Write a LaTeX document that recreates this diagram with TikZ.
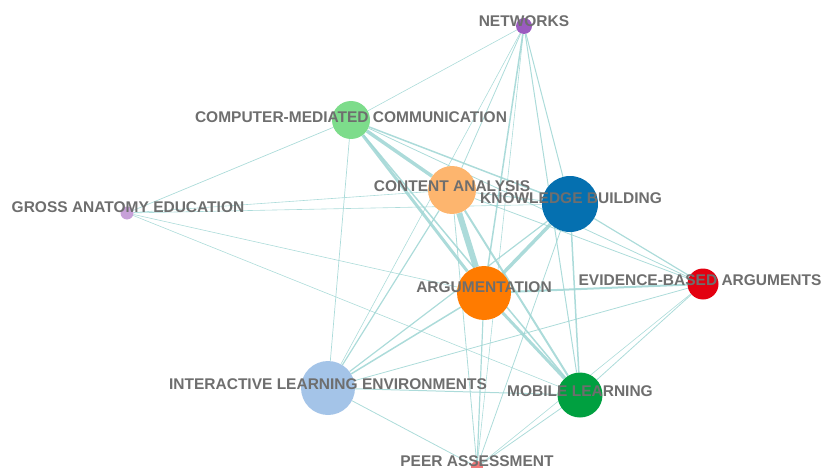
\documentclass[tikz,border=0pt]{standalone}
\usepackage{fontspec}
\setmainfont{Liberation Sans}
\usepackage{xcolor}
\usetikzlibrary{backgrounds}

\definecolor{edgecol}{HTML}{9ED5D3}
\definecolor{labelcol}{HTML}{6E6E6E}
\definecolor{netcol}{HTML}{9B5BC0}
\definecolor{cmccol}{HTML}{7DDC8B}
\definecolor{cacol}{HTML}{FDB56E}
\definecolor{kbcol}{HTML}{0570B0}
\definecolor{gacol}{HTML}{C7A0D8}
\definecolor{argcol}{HTML}{FF7B00}
\definecolor{ebacol}{HTML}{E30010}
\definecolor{ilecol}{HTML}{A4C4E8}
\definecolor{mlcol}{HTML}{00A040}
\definecolor{pacol}{HTML}{F07A7A}

\begin{document}
\begin{tikzpicture}[
    x=1pt, y=-1pt,
    every node/.style={font=\fontsize{15.5}{18}\selectfont\bfseries},
    dot/.style={circle, fill=#1, draw=none, inner sep=0pt},
    tag/.style={text=labelcol, inner sep=0pt, anchor=center},
    tie/.style={draw=edgecol, line width=#1, opacity=0.85}
]
\useasboundingbox (0,0) rectangle (822,468);

% Topic circles
\node[dot=netcol, minimum size=16pt] (net) at (524,26) {};
\node[dot=cmccol, minimum size=38pt] (cmc) at (351,120) {};
\node[dot=cacol, minimum size=48pt] (ca) at (452,190) {};
\node[dot=kbcol, minimum size=56pt] (kb) at (570,204) {};
\node[dot=gacol, minimum size=13pt] (ga) at (127,213) {};
\node[dot=argcol, minimum size=54pt] (arg) at (484,293) {};
\node[dot=ebacol, minimum size=31pt] (eba) at (703,284) {};
\node[dot=ilecol, minimum size=54pt] (ile) at (328,388) {};
\node[dot=mlcol, minimum size=45pt] (ml) at (580,395) {};
\node[dot=pacol, minimum size=12pt] (pa) at (477,467) {};

% Labels
\node[tag] (net-l) at (524,21) {NETWORKS};
\node[tag] (cmc-l) at (351,117) {COMPUTER-MEDIATED COMMUNICATION};
\node[tag] (ca-l) at (452,186) {CONTENT ANALYSIS};
\node[tag] (kb-l) at (571,198) {KNOWLEDGE BUILDING};
\node[tag] (ga-l) at (128,207.5) {GROSS ANATOMY EDUCATION};
\node[tag] (arg-l) at (484,287.5) {ARGUMENTATION};
\node[tag] (eba-l) at (700,280) {EVIDENCE-BASED ARGUMENTS};
\node[tag] (ile-l) at (328,384) {INTERACTIVE LEARNING ENVIRONMENTS};
\node[tag] (ml-l) at (580,391) {MOBILE LEARNING};
\node[tag] (pa-l) at (477,461) {PEER ASSESSMENT};

% Links
\begin{scope}[on background layer]
\draw[tie=0.6] (net) -- (cmc);
\draw[tie=0.8] (net) -- (ca);
\draw[tie=1.5] (net) -- (arg);
\draw[tie=0.6] (net) -- (ile);
\draw[tie=1.0] (net) -- (kb);
\draw[tie=1.0] (net) -- (ml);
\draw[tie=0.6] (net) -- (pa);
\draw[tie=3.5] (cmc) -- (ca);
\draw[tie=3.0] (cmc) -- (arg);
\draw[tie=1.5] (cmc) -- (kb);
\draw[tie=1.5] (cmc) -- (ml);
\draw[tie=0.8] (cmc) -- (eba);
\draw[tie=0.7] (cmc) -- (ile);
\draw[tie=0.7] (cmc) -- (ga);
\draw[tie=0.8] (ca) -- (kb);
\draw[tie=6.0] (ca) -- (arg);
\draw[tie=2.0] (ca) -- (ml);
\draw[tie=1.2] (ca) -- (ile);
\draw[tie=0.8] (ca) -- (eba);
\draw[tie=0.8] (ca) -- (pa);
\draw[tie=0.6] (ca) -- (ga);
\draw[tie=3.5] (kb) -- (arg);
\draw[tie=1.2] (kb) -- (eba);
\draw[tie=1.5] (kb) -- (ml);
\draw[tie=1.2] (kb) -- (ile);
\draw[tie=0.8] (kb) -- (pa);
\draw[tie=0.6] (kb) -- (ga);
\draw[tie=2.0] (arg) -- (eba);
\draw[tie=3.0] (arg) -- (ml);
\draw[tie=1.5] (arg) -- (ile);
\draw[tie=1.2] (arg) -- (pa);
\draw[tie=0.6] (arg) -- (ga);
\draw[tie=0.8] (eba) -- (ml);
\draw[tie=0.8] (eba) -- (ile);
\draw[tie=0.6] (eba) -- (pa);
\draw[tie=1.0] (ml) -- (ile);
\draw[tie=0.8] (ml) -- (pa);
\draw[tie=0.6] (ml) -- (ga);
\draw[tie=0.8] (ile) -- (pa);
\end{scope}

\end{tikzpicture}
\end{document}
